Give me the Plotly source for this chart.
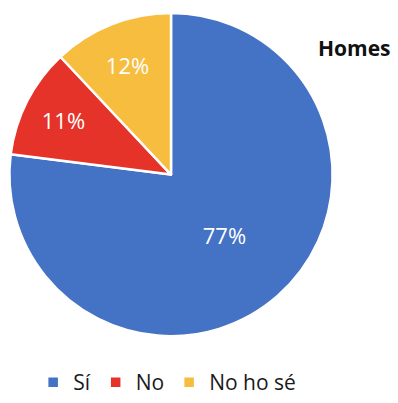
import plotly.graph_objects as go

# Survey answers for the "Homes" group
categories = ["Sí", "No", "No ho sé"]
values = [77, 11, 12]
colors = ["#4472C4", "#E5332A", "#F7BD3E"]

W, H = 398, 403

fig = go.Figure(
    go.Pie(
        labels=categories,
        values=values,
        sort=False,
        direction="clockwise",
        rotation=0,
        marker=dict(colors=colors, line=dict(color="white", width=2.5)),
        textinfo="percent",
        texttemplate="%{percent:.0%}",
        textposition="inside",
        insidetextorientation="horizontal",
        textfont=dict(color="white", size=22, family="Open Sans"),
        domain=dict(x=[8 / W, 334 / W], y=[1 - 337 / H, 1 - 13 / H]),
        hoverinfo="label+percent",
    )
)

fig.add_annotation(
    text="<b>Homes</b>",
    x=354 / W, y=1 - 48 / H, xref="paper", yref="paper",
    showarrow=False, xanchor="center", yanchor="middle",
    font=dict(size=21, color="#111111", family="Open Sans"),
)

fig.update_layout(
    width=W, height=H,
    margin=dict(l=0, r=0, t=0, b=0),
    paper_bgcolor="white",
    plot_bgcolor="white",
    showlegend=True,
    legend=dict(
        orientation="h",
        x=0.42, xanchor="center",
        y=1 - 383 / H, yanchor="middle",
        font=dict(size=21, color="#1a1a1a", family="Open Sans"),
        itemwidth=30,
        traceorder="normal",
    ),
)

fig.write_html("out.html")
